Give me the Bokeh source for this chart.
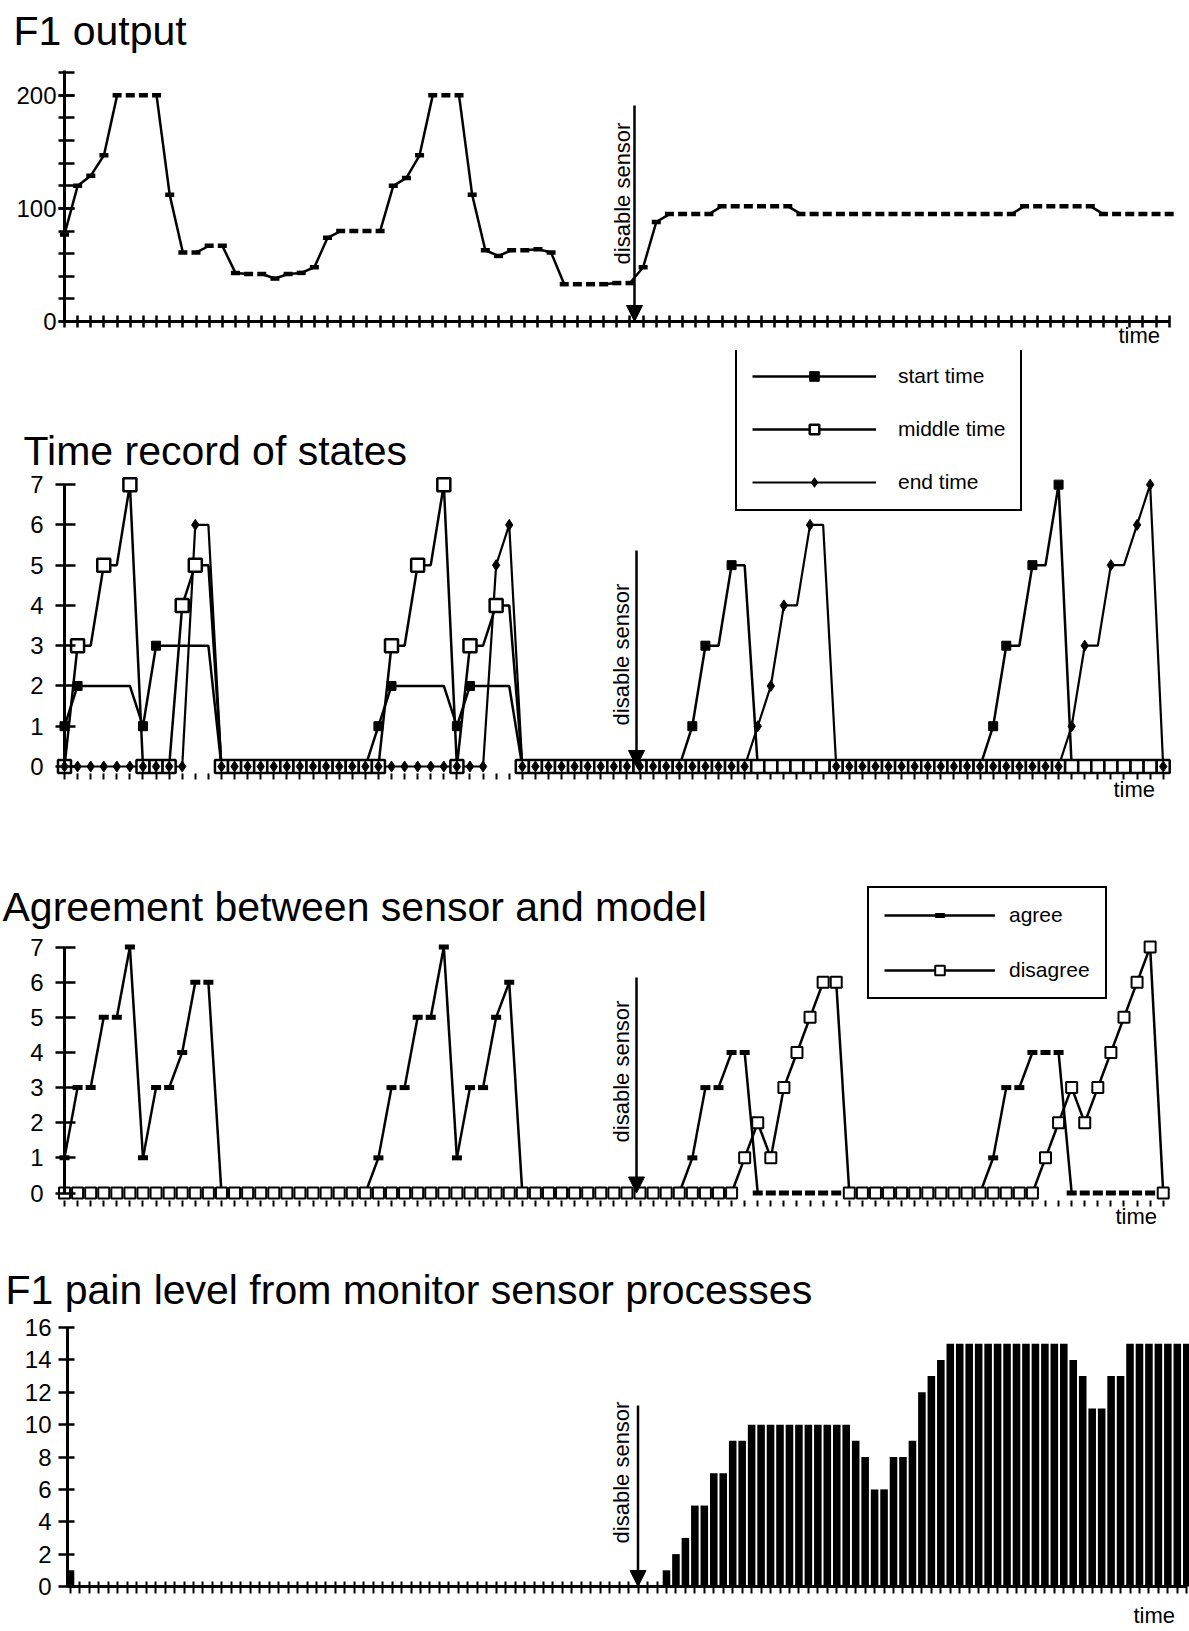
import math
from bokeh.plotting import figure
from bokeh.models import (Range1d, SingleIntervalTicker, FixedTicker, Label, Arrow, NormalHead,
                          Legend, LegendItem, ColumnDataSource)
from bokeh.layouts import column
from bokeh.embed import file_html
from bokeh.resources import INLINE

FONT = "Liberation Sans"

# ---------------- data ----------------
titles = ["F1 output", "Time record of states",
          "Agreement between sensor and model",
          "F1 pain level from monitor sensor processes"]
legend_states = ["start time", "middle time", "end time"]
legend_agree = ["agree", "disagree"]
note_text = "disable sensor"
time_label = "time"

f1_output = [77, 120, 129, 147, 200, 200, 200, 200, 112, 61,
             61, 67, 67, 43, 42, 42, 38, 42, 43, 48,
             74, 80, 80, 80, 80, 120, 127, 147, 200, 200,
             200, 112, 63, 58, 63, 63, 64, 61, 33, 33,
             33, 33, 34, 34, 48, 88, 95, 95, 95, 95,
             102, 102, 102, 102, 102, 102, 95, 95, 95, 95,
             95, 95, 95, 95, 95, 95, 95, 95, 95, 95,
             95, 95, 95, 102, 102, 102, 102, 102, 102, 95,
             95, 95, 95, 95, 95]

start_time = [1, 2, 2, 2, 2, 2, 1, 3, 3, 3,
              3, 3, 0, 0, 0, 0, 0, 0, 0, 0,
              0, 0, 0, 0, 1, 2, 2, 2, 2, 2,
              1, 2, 2, 2, 2, 0, 0, 0, 0, 0,
              0, 0, 0, 0, 0, 0, 0, 0, 1, 3,
              3, 5, 5, 0, 0, 0, 0, 0, 0, 0,
              0, 0, 0, 0, 0, 0, 0, 0, 0, 0,
              0, 1, 3, 3, 5, 5, 7, 0, 0, 0,
              0, 0, 0, 0, 0]

middle_time = [0, 3, 3, 5, 5, 7, 0, 0, 0, 4,
               5, 5, 0, 0, 0, 0, 0, 0, 0, 0,
               0, 0, 0, 0, 0, 3, 3, 5, 5, 7,
               0, 3, 3, 4, 4, 0, 0, 0, 0, 0,
               0, 0, 0, 0, 0, 0, 0, 0, 0, 0,
               0, 0, 0, 0, 0, 0, 0, 0, 0, 0,
               0, 0, 0, 0, 0, 0, 0, 0, 0, 0,
               0, 0, 0, 0, 0, 0, 0, 0, 0, 0,
               0, 0, 0, 0, 0]

end_time = [0, 0, 0, 0, 0, 0, 0, 0, 0, 0,
            6, 6, 0, 0, 0, 0, 0, 0, 0, 0,
            0, 0, 0, 0, 0, 0, 0, 0, 0, 0,
            0, 0, 0, 5, 6, 0, 0, 0, 0, 0,
            0, 0, 0, 0, 0, 0, 0, 0, 0, 0,
            0, 0, 0, 1, 2, 4, 4, 6, 6, 0,
            0, 0, 0, 0, 0, 0, 0, 0, 0, 0,
            0, 0, 0, 0, 0, 0, 0, 1, 3, 3,
            5, 5, 6, 7, 0]

agree = [1, 3, 3, 5, 5, 7, 1, 3, 3, 4,
         6, 6, 0, 0, 0, 0, 0, 0, 0, 0,
         0, 0, 0, 0, 1, 3, 3, 5, 5, 7,
         1, 3, 3, 5, 6, 0, 0, 0, 0, 0,
         0, 0, 0, 0, 0, 0, 0, 0, 1, 3,
         3, 4, 4, 0, 0, 0, 0, 0, 0, 0,
         0, 0, 0, 0, 0, 0, 0, 0, 0, 0,
         0, 1, 3, 3, 4, 4, 4, 0, 0, 0,
         0, 0, 0, 0, 0]

disagree = [0, 0, 0, 0, 0, 0, 0, 0, 0, 0,
            0, 0, 0, 0, 0, 0, 0, 0, 0, 0,
            0, 0, 0, 0, 0, 0, 0, 0, 0, 0,
            0, 0, 0, 0, 0, 0, 0, 0, 0, 0,
            0, 0, 0, 0, 0, 0, 0, 0, 0, 0,
            0, 0, 1, 2, 1, 3, 4, 5, 6, 6,
            0, 0, 0, 0, 0, 0, 0, 0, 0, 0,
            0, 0, 0, 0, 0, 1, 2, 3, 2, 3,
            4, 5, 6, 7, 0]

pain_level = [1, 0, 0, 0, 0, 0, 0, 0, 0, 0,
              0, 0, 0, 0, 0, 0, 0, 0, 0, 0,
              0, 0, 0, 0, 0, 0, 0, 0, 0, 0,
              0, 0, 0, 0, 0, 0, 0, 0, 0, 0,
              0, 0, 0, 0, 0, 0, 0, 0, 0, 0,
              0, 0, 0, 0, 0, 0, 0, 0, 0, 0,
              0, 0, 0, 1, 2, 3, 5, 5, 7, 7,
              9, 9, 10, 10, 10, 10, 10, 10, 10, 10,
              10, 10, 10, 9, 8, 6, 6, 8, 8, 9,
              12, 13, 14, 15, 15, 15, 15, 15, 15, 15,
              15, 15, 15, 15, 15, 15, 14, 13, 11, 11,
              13, 13, 15, 15, 15, 15, 15, 15, 15]

# ---------------- layout helpers ----------------
PAGE_W = 1189
MID = 0.3465  # distance (in em) from text baseline to the middle of the text box


class Geo:
    """Maps page pixel positions to the data units of one panel.
    x0: page x of time step 0, sx: px per step, y0: page y of value 0, sy: px per unit,
    top/bottom: page y extent of the panel's canvas."""
    def __init__(self, x0, sx, y0, sy, top, bottom):
        self.x0, self.sx, self.y0, self.sy = x0, sx, y0, sy
        self.top, self.bottom = top, bottom

    def dx(self, px):
        return (px - self.x0) / self.sx

    def dy(self, py):
        return (self.y0 - py) / self.sy

    def x_range(self):
        return Range1d(self.dx(0), self.dx(PAGE_W))

    def y_range(self):
        return Range1d(self.dy(self.bottom), self.dy(self.top))


def change_segments(vals):
    d = dict(x0=[], y0=[], x1=[], y1=[])
    for i in range(len(vals) - 1):
        if vals[i] != vals[i + 1]:
            d["x0"].append(i)
            d["y0"].append(vals[i])
            d["x1"].append(i + 1)
            d["y1"].append(vals[i + 1])
    return ColumnDataSource(d)


def marker_points(vals):
    xs, ys = [], []
    for i, v in enumerate(vals):
        if i == 0 or v != vals[i - 1] or v == 0:
            xs.append(i)
            ys.append(v)
    return ColumnDataSource(dict(x=xs, y=ys))


def make_fig(g):
    p = figure(width=PAGE_W, height=g.bottom - g.top, x_range=g.x_range(), y_range=g.y_range(),
               output_backend="svg", toolbar_location=None, title=None,
               min_border_left=0, min_border_right=0, min_border_top=0, min_border_bottom=0)
    p.outline_line_color = None
    p.xgrid.visible = False
    p.ygrid.visible = False
    p.background_fill_color = "white"
    p.border_fill_color = "white"
    for ax in (p.xaxis[0], p.yaxis[0]):
        ax.axis_line_color = "black"
        ax.major_tick_line_color = "black"
        ax.minor_tick_line_color = "black"
        ax.major_label_text_font = FONT
        ax.major_label_text_color = "black"
    p.yaxis.major_label_text_font_size = "24px"
    return p


def time_axis(p, n, loc, tick_in, tick_out, width, line_width):
    ax = p.xaxis[0]
    ax.fixed_location = loc
    ax.ticker = FixedTicker(ticks=[], minor_ticks=list(range(n)))
    ax.bounds = (0, n - 1)
    ax.minor_tick_in = tick_in
    ax.minor_tick_out = tick_out
    ax.minor_tick_line_width = width
    if line_width:
        ax.axis_line_width = line_width
    else:
        ax.axis_line_color = None


def text_label(g, x_page, baseline_page, text, size, **kw):
    # placed by the middle of the text box, one text-box half above the baseline
    return Label(x=g.dx(x_page), y=g.dy(baseline_page - MID * size), text=text,
                 text_font=FONT, text_font_size=f"{size}px", text_baseline="middle",
                 text_align="left", text_color="black", **kw)


def annotate(p, g, title, title_xy, time_xy, arrow_x, arrow_top, text_x, text_y):
    p.add_layout(text_label(g, title_xy[0], title_xy[1], title, 41))
    p.add_layout(text_label(g, time_xy[0], time_xy[1], time_label, 22))
    p.add_layout(Arrow(end=NormalHead(size=16, fill_color="black", line_color="black", line_width=1),
                       x_start=g.dx(arrow_x), y_start=g.dy(arrow_top),
                       x_end=g.dx(arrow_x), y_end=0,
                       line_width=2.5, line_color="black"))
    size = 22
    p.add_layout(Label(x=g.dx(text_x - MID * size), y=g.dy(text_y), text=note_text,
                       angle=math.pi / 2, text_align="center", text_baseline="middle",
                       text_font=FONT, text_font_size=f"{size}px", text_color="black"))


def make_legend(items, loc, glyph_width, spacing, padding, standoff):
    return Legend(items=items, location=loc, orientation="vertical",
                  glyph_width=glyph_width, glyph_height=24, label_height=24,
                  spacing=spacing, padding=padding, margin=0, label_standoff=standoff,
                  border_line_color="black", border_line_width=2.5, border_line_alpha=1.0,
                  background_fill_color="white", background_fill_alpha=1.0,
                  label_text_font=FONT, label_text_font_size="21px", label_text_color="black")


N = len(f1_output)
steps = list(range(N))

# ---------------- panel 1: F1 output ----------------
g1 = Geo(64, 13.151, 321, 251 / 222, 0, 350)
p1 = make_fig(g1)
ya = p1.yaxis[0]
ya.fixed_location = 0
ya.bounds = (0, 222)
ya.ticker = SingleIntervalTicker(interval=100, num_minor_ticks=5)
ya.major_tick_in = 10
ya.major_tick_out = 6
ya.minor_tick_in = 10
ya.minor_tick_out = 6
ya.major_tick_line_width = 2.5
ya.minor_tick_line_width = 2.5
ya.axis_line_width = 3
ya.major_label_standoff = 2
time_axis(p1, N, 0, 6, 6, 2.5, 3)

p1.segment("x0", "y0", "x1", "y1", source=change_segments(f1_output),
           line_color="black", line_width=2.5)
p1.scatter(steps, f1_output, marker="dash", size=9, line_width=4.5, line_color="black")
annotate(p1, g1, titles[0], (13, 45), (1118, 343), 634, 105, 630, 193)


def state_y_axis(p, standoff):
    ax = p.yaxis[0]
    ax.fixed_location = 0
    ax.bounds = (0, 7)
    ax.ticker = SingleIntervalTicker(interval=1, num_minor_ticks=0)
    ax.major_tick_in = 11
    ax.major_tick_out = 9
    ax.major_tick_line_width = 2.5
    ax.axis_line_width = 3
    ax.major_label_standoff = standoff


# ---------------- panel 2: time record of states ----------------
g2 = Geo(64, 13.08, 766, 302 / 7.5, 350, 830)
p2 = make_fig(g2)
state_y_axis(p2, 12)
time_axis(p2, N, -0.25, 3, 3, 2, None)

l_start = p2.line(steps, start_time, line_color="black", line_width=2.5)
l_mid = p2.line(steps, middle_time, line_color="black", line_width=2.5)
l_end = p2.line(steps, end_time, line_color="black", line_width=2.2)
m_start = p2.scatter("x", "y", source=marker_points(start_time), marker="square", size=9,
                     fill_color="black", line_color="black")
m_mid = p2.scatter("x", "y", source=marker_points(middle_time), marker="square", size=13,
                   fill_color="white", line_color="black", line_width=2.5)
m_end = p2.scatter("x", "y", source=marker_points(end_time), marker="diamond", size=11,
                   fill_color="black", line_color="black")

leg2 = make_legend([LegendItem(label=legend_states[0], renderers=[l_start, m_start]),
                    LegendItem(label=legend_states[1], renderers=[l_mid, m_mid]),
                    LegendItem(label=legend_states[2], renderers=[l_end, m_end])],
                   (735, 830 - 511), 124, 29, 15, 22)
p2.add_layout(leg2)
annotate(p2, g2, titles[1], (23, 465), (1113, 797), 636, 550, 629, 654)

# ---------------- panel 3: agreement ----------------
g3 = Geo(64, 13.08, 1192.5, 267 / 7.6, 830, 1232)
p3 = make_fig(g3)
state_y_axis(p3, 12)
time_axis(p3, N, -0.3, 3, 3, 2, None)

s_agree = p3.segment("x0", "y0", "x1", "y1", source=change_segments(agree),
                     line_color="black", line_width=2.5)
m_agree = p3.scatter(steps, agree, marker="dash", size=10, line_width=5, line_color="black")
s_dis = p3.segment("x0", "y0", "x1", "y1", source=change_segments(disagree),
                   line_color="black", line_width=2.5)
m_dis = p3.scatter(steps, disagree, marker="square", size=11, fill_color="white",
                   line_color="black", line_width=2)

leg3 = make_legend([LegendItem(label=legend_agree[0], renderers=[s_agree, m_agree]),
                    LegendItem(label=legend_agree[1], renderers=[s_dis, m_dis])],
                   (867, 1232 - 999), 111, 31, 15, 14)
p3.add_layout(leg3)
annotate(p3, g3, titles[2], (2, 921), (1115, 1224), 636, 977, 629, 1071)

# ---------------- panel 4: pain level ----------------
M = len(pain_level)
steps4 = list(range(M))
g4 = Geo(70, 9.46, 1586, 259 / 16, 1232, 1628)
p4 = make_fig(g4)
ya4 = p4.yaxis[0]
ya4.fixed_location = g4.dx(67)
ya4.bounds = (0, 16)
ya4.ticker = SingleIntervalTicker(interval=2, num_minor_ticks=0)
ya4.major_tick_in = 7
ya4.major_tick_out = 9
ya4.major_tick_line_width = 2.5
ya4.axis_line_width = 3
ya4.major_label_standoff = 7
time_axis(p4, M, 0, 5, 7, 2, 3)
p4.xaxis[0].bounds = (g4.dx(67), M - 1)

p4.vbar(x=steps4, top=pain_level, width=0.8, fill_color="black", line_color=None)
annotate(p4, g4, titles[3], (5, 1304), (1133, 1623), 637.5, 1405, 629, 1472)

layout = column(p1, p2, p3, p4, spacing=0)
open("out.html", "w").write(file_html(layout, INLINE))
